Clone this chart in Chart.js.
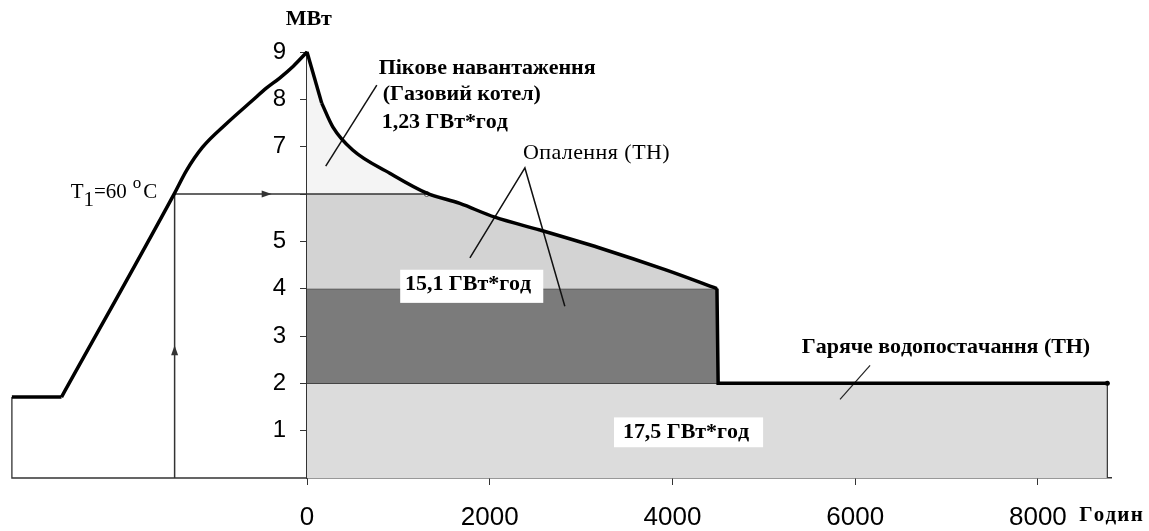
<!DOCTYPE html>
<html>
<head>
<meta charset="utf-8">
<script src="https://cdn.jsdelivr.net/npm/chart.js@4.4.1/dist/chart.umd.min.js"></script>
<style>
  html, body { margin: 0; padding: 0; background: #fff; }
  #wrap { width: 1149px; height: 531px; }
</style>
</head>
<body>
<div id="wrap"><canvas id="chart" width="1149" height="531"></canvas></div>
<script>
// load duration curve, hours of the year vs MW
const loadHours = [0, 161, 282, 500, 906, 1311, 1673, 2056, 2549, 3205, 3935, 4487];
const loadMW    = [9, 7.92, 7.42, 6.93, 6.44, 6.02, 5.80, 5.51, 5.24, 4.86, 4.39, 4.0];

// outdoor temperature branch, drawn left of the axis
const tempX = [-2687, -1449, -1318, -1143, -880, -595, -442, -299, -150, 0];
const tempY = [1.71, 6.02, 6.50, 6.99, 7.49, 7.98, 8.24, 8.45, 8.70, 9];
const tempStart = -3230;

const xTicks = [0, 2000, 4000, 6000, 8000];
const yTicks = [1, 2, 3, 4, 5, 6, 7, 8, 9];
const yTickLabels = ['1', '2', '3', '4', '5', '', '7', '8', '9'];

const hwLevel = 2;        // hot water, MW
const heatBase = 4;       // heat pump base, MW
const t1Level = 6;        // load at T1 = 60 C
const t1Hours = 1311;
const t1X = -1449;
const heatEnd = 4500;
const yearEnd = 8760;

const pts = (xs, ys) => xs.map((x, i) => ({ x, y: ys[i] }));
const curve = pts(loadHours, loadMW);

const peakArea = curve.filter(p => p.x <= t1Hours);
const heatArea = [{ x: 0, y: t1Level }].concat(curve.filter(p => p.x >= t1Hours));
const darkBand = [{ x: 0, y: heatBase }, { x: heatEnd, y: heatBase }];
const baseBand = [{ x: 0, y: hwLevel }, { x: yearEnd, y: hwLevel }, { x: yearEnd, y: 0 }];

const line = (data, w, c, extra) => Object.assign({
    data, borderColor: c, borderWidth: w, pointRadius: 0, fill: false, tension: 0, clip: false
}, extra || {});
const smooth = { cubicInterpolationMode: 'monotone' };

const datasets = [
    line(curve.slice(0, 2), 3.5, '#000'),
    line(curve.slice(1), 3.5, '#000', smooth),
    line([curve[curve.length - 1], { x: heatEnd, y: hwLevel }, { x: yearEnd, y: hwLevel }], 3.5, '#000'),
    line([{ x: tempStart, y: tempY[0] }, { x: tempX[0], y: tempY[0] }], 3.5, '#000'),
    line(pts(tempX, tempY), 3.5, '#000', smooth),
    // outline of the left panel and its baseline
    line([{ x: tempStart, y: tempY[0] }, { x: tempStart, y: 0 }, { x: 0, y: 0 }], 1.3, '#333'),
    line([{ x: t1X, y: 0 }, { x: t1X, y: t1Level }, { x: t1Hours, y: t1Level }], 1.5, '#333'),
    line([{ x: t1Hours, y: t1Level }], 0, '#555', {
        showLine: false, pointRadius: 2.5, pointBackgroundColor: '#fff', pointBorderWidth: 1, pointBorderColor: '#555'
    }),
    line([{ x: yearEnd, y: hwLevel }], 0, '#000', {
        showLine: false, pointRadius: 2.5, pointBackgroundColor: '#000', pointBorderWidth: 0
    }),
    // leader lines of the labels
    line([{ x: 764, y: 8.30 }, { x: 205, y: 6.59 }], 1.5, '#111'),
    line([{ x: 1783, y: 4.65 }, { x: 2385, y: 6.55 }, { x: 2822, y: 3.63 }], 1.5, '#111'),
    line([{ x: 6163, y: 2.38 }, { x: 5834, y: 1.66 }], 1.2, '#222'),
    // filled energy areas
    line(peakArea, 0, 'rgba(0,0,0,0)', Object.assign({ fill: { value: t1Level }, backgroundColor: '#f4f4f4' }, smooth)),
    line(heatArea, 0, 'rgba(0,0,0,0)', Object.assign({ fill: { value: heatBase }, backgroundColor: '#d3d3d3' }, smooth)),
    line(darkBand, 1.2, '#333', { fill: { value: hwLevel }, backgroundColor: '#7b7b7b' }),
    line(baseBand, 1.2, '#333', { fill: 'origin', backgroundColor: '#dcdcdc' })
];

// arrow heads on the T1 construction lines: position and direction
const arrows = [
    { x: -441, y: t1Level, dir: 'right' },
    { x: t1X, y: 2.7, dir: 'up' }
];

// text annotations: anchor in data units, target width in px
const serifB = 'bold 22px "Liberation Serif"';
const labels = [
    { t: 'МВт', x: 20, y: 9.7, w: 46, font: serifB, center: true },
    { t: 'Пікове навантаження', x: 785, y: 8.66, w: 216, font: serifB },
    { t: '(Газовий котел)', x: 829, y: 8.11, w: 155, font: serifB },
    { t: '1,23 ГВт*год', x: 818, y: 7.52, w: 125, font: serifB },
    { t: 'Опалення (ТН)', x: 2363, y: 6.86, w: 147, font: '22px "Liberation Serif"' },
    { t: '15,1 ГВт*год', x: 1073, y: 4.1, w: 125, font: serifB, box: [1020, 4.4, 2586, 3.7] },
    { t: '17,5 ГВт*год', x: 3458, y: 0.97, w: 125, font: serifB, box: [3360, 1.28, 4992, 0.65] },
    { t: 'Гаряче водопостачання (ТН)', x: 5416, y: 2.76, w: 285, font: serifB },
    { t: 'Годин', x: 8453, y: -0.8, w: 61, font: 'bold 21px "Liberation Serif"' }
];

function spacedText(ctx, text, x, y, width) {
    const chars = [...text];
    const natural = ctx.measureText(text).width;
    const gap = chars.length > 1 ? (width - natural) / (chars.length - 1) : 0;
    let cx = x;
    chars.forEach(ch => {
        ctx.fillText(ch, cx, y);
        cx += ctx.measureText(ch).width + gap;
    });
}

const textPlugin = {
    id: 'texts',
    afterDraw(chart) {
        const { ctx, scales: { x, y } } = chart;
        ctx.save();

        ctx.fillStyle = '#333';
        arrows.forEach(a => {
            const ax = x.getPixelForValue(a.x), ay = y.getPixelForValue(a.y);
            ctx.beginPath();
            if (a.dir === 'right') {
                ctx.moveTo(ax + 5, ay); ctx.lineTo(ax - 5, ay - 3.5); ctx.lineTo(ax - 5, ay + 3.5);
            } else {
                ctx.moveTo(ax, ay - 5); ctx.lineTo(ax - 3.5, ay + 5); ctx.lineTo(ax + 3.5, ay + 5);
            }
            ctx.closePath();
            ctx.fill();
        });

        ctx.textBaseline = 'middle';
        ctx.textAlign = 'left';
        labels.forEach(l => {
            if (l.box) {
                const x0 = x.getPixelForValue(l.box[0]), y0 = y.getPixelForValue(l.box[1]);
                const x1 = x.getPixelForValue(l.box[2]), y1 = y.getPixelForValue(l.box[3]);
                ctx.fillStyle = '#fff';
                ctx.fillRect(x0, y0, x1 - x0, y1 - y0);
            }
            ctx.font = l.font;
            ctx.fillStyle = '#000';
            let px = x.getPixelForValue(l.x);
            if (l.center) px -= l.w / 2;
            spacedText(ctx, l.t, px, y.getPixelForValue(l.y), l.w);
        });

        // T1=60 °C with sub/superscript
        let px = x.getPixelForValue(-2587), py = y.getPixelForValue(6.04);
        const parts = [
            ['T', '21px "Liberation Serif"', 0, 0],
            ['1', '21px "Liberation Serif"', 8, 0],
            ['=60', '21px "Liberation Serif"', 0, 6],
            ['o', '17px "Liberation Serif"', -9, 2],
            ['C', '21px "Liberation Serif"', 0, 0]
        ];
        parts.forEach(p => {
            ctx.font = p[1];
            ctx.fillText(p[0], px, py + p[2]);
            px += ctx.measureText(p[0]).width + p[3];
        });
        ctx.restore();
    }
};

new Chart(document.getElementById('chart'), {
    type: 'line',
    data: { datasets },
    options: {
        responsive: false,
        animation: false,
        layout: { padding: { left: 0, right: 38, top: 52, bottom: 0 } },
        plugins: { legend: { display: false }, tooltip: { enabled: false } },
        scales: {
            x: {
                type: 'linear', position: 'bottom', bounds: 'data',
                // range set after data limits so the left panel (negative x) is still drawn
                afterDataLimits: s => { s.min = 0; s.max = 8800; },
                afterBuildTicks: s => { s.ticks = xTicks.map(v => ({ value: v })); },
                afterFit: s => { s.height = 53; },
                grid: { drawOnChartArea: false, drawTicks: true, tickLength: 7, color: '#333' },
                border: { color: '#333', width: 1.5 },
                ticks: {
                    color: '#000', padding: 17, maxRotation: 0,
                    font: { family: 'Liberation Sans', size: 26 },
                    callback: v => String(v)
                }
            },
            y: {
                type: 'linear', position: 'left', min: 0, max: 9,
                afterBuildTicks: s => { s.ticks = yTicks.map(v => ({ value: v })); },
                afterFit: s => { s.width = 307; },
                grid: { drawOnChartArea: false, drawTicks: true, tickLength: 7, color: '#333' },
                border: { color: '#333', width: 1.5 },
                ticks: {
                    color: '#000', padding: 14, font: { family: 'Liberation Sans', size: 24 },
                    callback: v => { const i = yTicks.indexOf(v); return i < 0 ? '' : yTickLabels[i]; }
                }
            }
        }
    },
    plugins: [textPlugin]
});
</script>
</body>
</html>
